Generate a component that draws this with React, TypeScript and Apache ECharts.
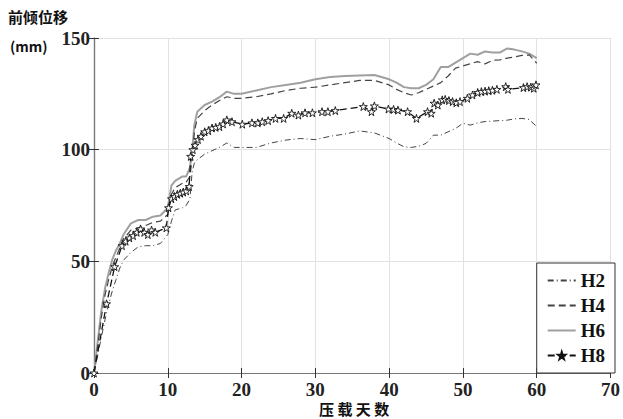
import React, { useEffect, useRef } from "react";
import * as echarts from "echarts";

const xTicks = [0, 10, 20, 30, 40, 50, 60, 70];
const yTicks = [0, 50, 100, 150];

const days = [0, 0.5, 1, 1.5, 2, 2.5, 3, 3.5, 4, 5, 6, 7, 8, 9, 10, 10.5, 11, 11.5, 12, 12.5, 13, 13.3, 13.6, 14, 15, 16, 17, 18, 19, 20, 22, 24, 26, 28, 30, 32, 34, 36, 38, 40, 41, 42, 43, 44, 45, 46, 47, 48, 49, 50, 51, 52, 53, 54, 55, 56, 57, 58, 59, 60];

const h2 = [0, 8, 16, 24, 31, 37, 42, 47, 50.5, 54, 56.5, 57, 57, 58, 62, 68, 73, 73.5, 74, 75, 78, 90, 94, 95.5, 98, 99.5, 101, 103, 101, 101, 101, 103, 104.3, 105, 104.5, 106, 107, 108.4, 107.5, 105, 103, 101.3, 101, 101.5, 102.8, 106.5, 106.5, 108, 109.5, 111.8, 111, 112, 112.6, 112.8, 113, 113.2, 113.8, 114, 113.5, 110.3];

const h4 = [0, 12, 25, 35, 42, 48, 52, 56, 60, 64, 65, 66, 67.5, 68, 71, 80, 83, 84, 85, 85.5, 88, 96, 108, 114, 117.5, 120, 122, 123.7, 123, 123, 123.7, 125, 126.5, 127.5, 128, 129, 130, 131, 131, 129, 127, 125.5, 124.5, 125.5, 127, 128.5, 130, 133, 136.5, 137.5, 138.5, 139.4, 138.4, 140, 140.2, 141, 141.5, 142.2, 142.4, 138.7];

const h6 = [0, 14, 28, 38, 45, 51, 55, 58, 62, 67, 68.5, 68.5, 70, 70.5, 74, 84, 86, 87, 88, 88, 92, 99, 111, 117, 120, 121.5, 123.5, 126, 125, 125, 126.5, 128, 129, 130, 131.5, 132.5, 133, 133.2, 133.4, 131.5, 130, 128, 127.5, 127.5, 129, 131.5, 137, 137, 139, 141, 143, 142.5, 144, 143.5, 143.5, 145.3, 144.8, 144, 143, 141];

const h8Days = [0, 1.7, 2.8, 3.8, 4.3, 4.8, 5.3, 5.8, 6.3, 6.8, 7.3, 7.8, 8.3, 9.8, 10.1, 10.5, 10.9, 11.3, 11.7, 12.1, 12.5, 12.9, 13.1, 13.4, 13.7, 14.1, 14.5, 15, 15.5, 16, 16.5, 17, 17.5, 18, 18.7, 20.1, 21.4, 22.2, 22.8, 23.6, 24.6, 25.7, 26.8, 27.7, 28.6, 29.6, 30.9, 31.7, 32.7, 36.5, 37.6, 38, 39.9, 40.6, 41.2, 42.5, 43.7, 45.2, 45.7, 46.1, 46.6, 47.2, 47.6, 48.1, 48.6, 49.1, 49.6, 50.6, 51.3, 52, 52.5, 53, 53.5, 54, 54.6, 55.8, 56.1, 58.2, 58.7, 59.2, 59.6, 59.9];

const h8 = [0, 31, 47.6, 57, 59, 60.5, 61.5, 63, 64.5, 63, 62, 64, 63, 65, 74, 78, 79, 80, 80.5, 81, 81.5, 83.5, 97, 100, 102, 104.5, 106, 108, 108.5, 109.7, 110, 110.3, 111.5, 113.3, 112.5, 111.4, 112, 112, 112.5, 113, 114, 114, 116.3, 115.5, 116.5, 116.5, 117, 117, 117.5, 119.3, 117, 119.6, 118.2, 118, 117.7, 117, 114, 117, 116.3, 120.8, 120, 122.3, 122.5, 122, 121.5, 121, 121.5, 123, 124.5, 125.6, 126, 126.2, 126.4, 126.6, 127, 128.2, 127, 127.8, 128.2, 128, 127.5, 129];

const STAR = "path://M50,0 L61,35 L98,35 L68,57 L79,91 L50,70 L21,91 L32,57 L2,35 L39,35 Z";

const pair = (xs: number[], ys: number[]) => xs.map((x, i) => [x, ys[i]]);

export default function App() {
  const ref = useRef<HTMLDivElement>(null);
  useEffect(() => {
    if (!ref.current) return;
    const chart = echarts.init(ref.current, undefined, { renderer: "svg" });
    const labelFont = {
      fontFamily: "Liberation Serif",
      fontWeight: "bold" as const,
      fontSize: 19,
      color: "#222",
    };
    const axisCommon = {
      type: "value" as const,
      axisLine: { show: true, lineStyle: { color: "#777", width: 1.2 } },
      axisTick: { show: true, inside: true, length: 5, lineStyle: { color: "#333" } },
    };
    chart.setOption({
      animation: false,
      backgroundColor: "#fff",
      grid: { left: 94, right: 8, top: 38, bottom: 46 },
      xAxis: [
        {
          ...axisCommon,
          position: "bottom",
          min: xTicks[0],
          max: xTicks[xTicks.length - 1],
          interval: 10,
          axisLabel: { ...labelFont, margin: 7 },
          splitLine: { show: true, lineStyle: { color: "#e2e2e2", width: 1 } },
        },
        {
          ...axisCommon,
          position: "top",
          min: xTicks[0],
          max: xTicks[xTicks.length - 1],
          interval: 10,
          axisLabel: { show: false },
          splitLine: { show: false },
        },
      ],
      yAxis: [
        {
          ...axisCommon,
          position: "left",
          min: yTicks[0],
          max: yTicks[yTicks.length - 1],
          interval: 50,
          axisLabel: { ...labelFont, margin: 4 },
          splitLine: { show: true, lineStyle: { color: "#e2e2e2", width: 1 } },
        },
        {
          ...axisCommon,
          position: "right",
          min: yTicks[0],
          max: yTicks[yTicks.length - 1],
          interval: 50,
          axisLabel: { show: false },
          splitLine: { show: false },
        },
      ],
      legend: {
        orient: "vertical",
        right: 8,
        bottom: 46,
        backgroundColor: "#fff",
        borderColor: "#333",
        borderWidth: 1,
        borderRadius: 0,
        padding: [8, 10, 8, 10],
        itemWidth: 28,
        itemHeight: 9,
        itemGap: 6,
        textStyle: { fontFamily: "Liberation Serif", fontWeight: "bold", fontSize: 19, color: "#111" },
        data: [
          { name: "H2", itemStyle: { opacity: 0 } },
          { name: "H4", itemStyle: { opacity: 0 } },
          { name: "H6", itemStyle: { opacity: 0 } },
          { name: "H8", itemStyle: { color: "#222", borderColor: "#111" } },
        ],
      },
      series: [
        {
          name: "H2",
          type: "line",
          data: pair(days, h2),
          symbol: "none",
          lineStyle: { color: "#444", width: 1, type: [6, 3, 1, 3] },
          itemStyle: { color: "#444" },
          z: 2,
        },
        {
          name: "H4",
          type: "line",
          data: pair(days, h4),
          symbol: "none",
          lineStyle: { color: "#444", width: 1.2, type: [7, 4] },
          itemStyle: { color: "#444" },
          z: 3,
        },
        {
          name: "H6",
          type: "line",
          data: pair(days, h6),
          symbol: "none",
          lineStyle: { color: "#a0a0a0", width: 2 },
          itemStyle: { color: "#a0a0a0" },
          z: 1,
        },
        {
          name: "H8",
          type: "line",
          data: pair(h8Days, h8),
          symbol: STAR,
          symbolSize: 8,
          showAllSymbol: true,
          lineStyle: { color: "#111", width: 1.3, type: [7, 4] },
          itemStyle: { color: "#fff", borderColor: "#111", borderWidth: 0.9 },
          z: 4,
        },
      ],
      graphic: [
        {
          type: "text",
          left: 8,
          top: 9,
          style: {
            text: "前倾位移",
            font: "bold 15px 'Noto Sans CJK SC'",
            fill: "#111",
          },
        },
        {
          type: "text",
          left: 10,
          top: 39,
          style: {
            text: "(mm)",
            font: "bold 14px 'Noto Sans CJK SC'",
            fill: "#111",
          },
        },
        {
          type: "text",
          left: 319,
          top: 401,
          style: {
            text: "压 载 天 数",
            font: "bold 15px 'Noto Sans CJK SC'",
            fill: "#111",
          },
        },
      ],
    });
    return () => chart.dispose();
  }, []);
  return (
    <div
      ref={ref}
      style={{ position: "fixed", left: 0, top: 0, width: 623, height: 419, background: "#fff" }}
    />
  );
}
